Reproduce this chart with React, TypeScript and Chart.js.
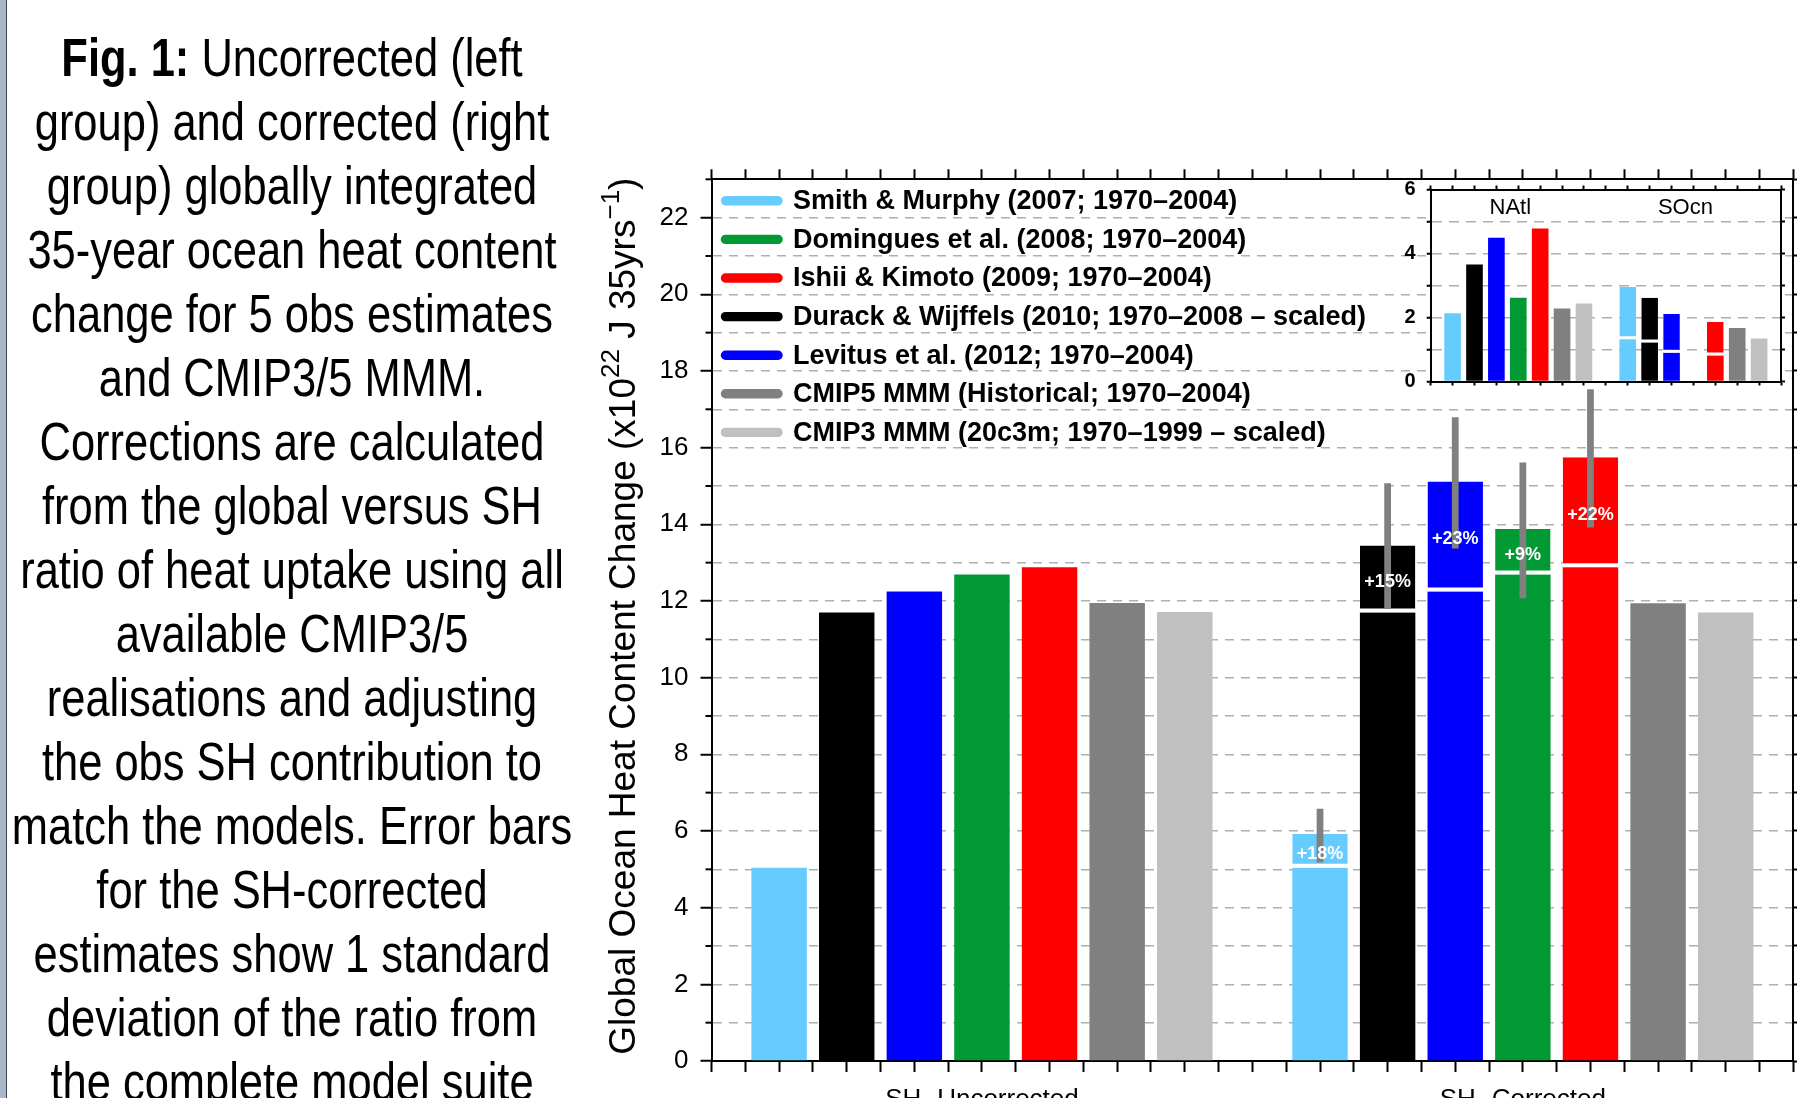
import React, { useEffect, useRef } from 'react';
import { Chart, registerables } from 'chart.js';

Chart.register(...registerables);

const FONT = '"Liberation Sans", Arial, Helvetica, sans-serif';

// ---------------- data ----------------
const groupLabels = ['SH- Uncorrected', 'SH- Corrected'];
const seriesNames = [
  'Smith & Murphy (2007; 1970–2004)',
  'Durack & Wijffels (2010; 1970–2008 – scaled)',
  'Levitus et al. (2012; 1970–2004)',
  'Domingues et al. (2008; 1970–2004)',
  'Ishii & Kimoto (2009; 1970–2004)',
  'CMIP5 MMM (Historical; 1970–2004)',
  'CMIP3 MMM (20c3m; 1970–1999 – scaled)',
];
const seriesColors = ['#66ccff', '#000000', '#0000ff', '#009933', '#ff0000', '#808080', '#c0c0c0'];
const legendOrder = [0, 3, 4, 1, 2, 5, 6];
const uncorrectedValues = [5.04, 11.7, 12.25, 12.69, 12.88, 11.95, 11.71];
const correctedValues = [5.93, 13.45, 15.12, 13.88, 15.75, 11.94, 11.7];
const correctionLabels = ['+18%', '+15%', '+23%', '+9%', '+22%', '', ''];
const errorLow = [5.18, 11.8, 13.37, 12.07, 13.92, null, null];
const errorHigh = [6.58, 15.07, 16.79, 15.61, 17.52, null, null];

const insetRegions = ['NAtl', 'SOcn'];
const natlValues = [2.13, 3.66, 4.49, 2.62, 4.78, 2.28, 2.44];
const socnValues = [1.32, 1.22, 0.9, null, 0.81, 1.67, 1.34];
const socnCorrected = [2.96, 2.62, 2.11, null, 1.86, null, null];

const captionLead = 'Fig. 1:';
const captionLines = [
  ' Uncorrected (left',
  'group) and corrected (right',
  'group) globally integrated',
  '35-year ocean heat content',
  'change for 5 obs estimates',
  'and CMIP3/5 MMM.',
  'Corrections are calculated',
  'from the global versus SH',
  'ratio of heat uptake using all',
  'available CMIP3/5',
  'realisations and adjusting',
  'the obs SH contribution to',
  'match the models. Error bars',
  'for the SH-corrected',
  'estimates show 1 standard',
  'deviation of the ratio from',
  'the complete model suite',
];

// ---------------- helpers ----------------
const nSeries = seriesNames.length;
const slotsPerGroup = nSeries + 1;
const totalSlots = groupLabels.length * slotsPerGroup;
const slot = (g: number, i: number) => g * slotsPerGroup + 1 + i;
const groupCenter = (g: number) => g * slotsPerGroup + (nSeries + 1) / 2;

const GRID = '#b0b0b0';

// ---------------- main chart config ----------------
function buildMain() {
  const baseData: any[] = [];
  const baseColors: string[] = [];
  groupLabels.forEach((_, g) => {
    seriesNames.forEach((__, i) => {
      const hasCorr = g === 1 && correctionLabels[i] !== '';
      const v = g === 0 ? uncorrectedValues[i] : hasCorr ? uncorrectedValues[i] : correctedValues[i];
      baseData.push({ x: slot(g, i), y: v });
      baseColors.push(seriesColors[i]);
    });
  });
  const corrData: any[] = [];
  const corrColors: string[] = [];
  seriesNames.forEach((_, i) => {
    if (correctionLabels[i]) {
      corrData.push({ x: slot(1, i), y: [uncorrectedValues[i], correctedValues[i]], pct: correctionLabels[i] });
      corrColors.push(seriesColors[i]);
    }
  });
  const errData: any[] = [];
  seriesNames.forEach((_, i) => {
    if (errorLow[i] != null && errorHigh[i] != null) errData.push({ x: slot(1, i), y: [errorLow[i], errorHigh[i]] });
  });

  const yTitlePlugin = {
    id: 'yTitle',
    afterDraw(chart: any) {
      const { ctx, chartArea: a } = chart;
      const fs = 37;
      const sfs = 26;
      const parts: [string, boolean][] = [
        ['Global Ocean Heat Content Change (x10', false],
        ['22', true],
        [' J 35yrs', false],
        ['\u22121', true],
        [')', false],
      ];
      ctx.save();
      let total = 0;
      const widths = parts.map(([t, sup]) => {
        ctx.font = `${sup ? sfs : fs}px ${FONT}`;
        const w = ctx.measureText(t).width;
        total += w;
        return w;
      });
      ctx.translate(a.left - 77, (a.top + a.bottom) / 2 - 4);
      ctx.rotate(-Math.PI / 2);
      ctx.fillStyle = '#000';
      ctx.textBaseline = 'alphabetic';
      ctx.textAlign = 'left';
      let x = -total / 2;
      parts.forEach(([t, sup], k) => {
        ctx.font = `${sup ? sfs : fs}px ${FONT}`;
        ctx.fillText(t, x, sup ? -fs * 0.42 : 0);
        x += widths[k];
      });
      ctx.restore();
    },
  };

  const legendPlugin = {
    id: 'insideLegend',
    afterDatasetsDraw(chart: any) {
      const { ctx, chartArea: a } = chart;
      ctx.save();
      legendOrder.forEach((si, r) => {
        const cy = a.top + 22.5 + r * 38.6;
        ctx.strokeStyle = seriesColors[si];
        ctx.lineWidth = 9.4;
        ctx.lineCap = 'round';
        ctx.beginPath();
        ctx.moveTo(a.left + 14, cy - 1);
        ctx.lineTo(a.left + 66.5, cy - 1);
        ctx.stroke();
        ctx.fillStyle = '#000';
        ctx.font = `bold 27px ${FONT}`;
        ctx.textBaseline = 'middle';
        ctx.textAlign = 'left';
        ctx.fillText(seriesNames[si], a.left + 81.5, cy);
      });
      ctx.restore();
    },
  };

  const pctPlugin = {
    id: 'pctLabels',
    afterDatasetsDraw(chart: any) {
      const { ctx } = chart;
      const ds = chart.data.datasets[1];
      const meta = chart.getDatasetMeta(1);
      ctx.save();
      ctx.fillStyle = '#ffffff';
      ctx.font = `bold 18px ${FONT}`;
      ctx.textAlign = 'center';
      ctx.textBaseline = 'middle';
      meta.data.forEach((el: any, j: number) => {
        ctx.fillText(ds.data[j].pct, el.x, (el.y + el.base) / 2 + 3);
      });
      ctx.restore();
    },
  };

  const minorTickPlugin = {
    id: 'minorTicks',
    afterDraw(chart: any) {
      const { ctx } = chart;
      const y = chart.scales.y;
      ctx.save();
      ctx.strokeStyle = '#000';
      ctx.lineWidth = 2;
      y.ticks.forEach((t: any) => {
        if (t.value % 2 === 1) {
          const py = y.getPixelForValue(t.value);
          ctx.beginPath();
          ctx.moveTo(y.right - 6, py);
          ctx.lineTo(y.right, py);
          ctx.stroke();
        }
      });
      ctx.restore();
    },
  };

  const tickFontY = { family: FONT, size: 26 };
  const barCommon = { grouped: false, categoryPercentage: 1, barPercentage: 1.64 };

  return {
    type: 'bar',
    data: {
      datasets: [
        { label: 'base', data: baseData, backgroundColor: baseColors, borderWidth: 0, order: 3, ...barCommon },
        {
          label: 'correction',
          data: corrData,
          backgroundColor: corrColors,
          borderColor: '#ffffff',
          borderWidth: { top: 0, right: 0, bottom: 4, left: 0 },
          borderSkipped: false,
          order: 2,
          ...barCommon,
        },
        { label: 'error', data: errData, backgroundColor: '#808080', borderWidth: 0, order: 1, grouped: false, categoryPercentage: 1, barPercentage: 0.2 },
      ],
    },
    options: {
      responsive: false,
      animation: false,
      events: [],
      layout: { padding: 0 },
      plugins: { legend: { display: false }, tooltip: { enabled: false }, title: { display: false } },
      scales: {
        x: {
          type: 'linear',
          position: 'bottom',
          min: 0,
          max: totalSlots,
          offset: false,
          grid: { display: true, offset: false, drawOnChartArea: false, drawTicks: true, tickLength: 11, tickWidth: 2, tickColor: '#000', tickBorderDash: [] },
          border: { display: true, color: '#000', width: 2 },
          ticks: {
            stepSize: 0.5,
            maxTicksLimit: 200,
            autoSkip: false,
            maxRotation: 0,
            minRotation: 0,
            padding: 12,
            color: '#000',
            font: { family: FONT, size: 26 },
            callback: (v: number) => {
              const g = groupLabels.findIndex((_, k) => groupCenter(k) === v);
              return g >= 0 ? groupLabels[g] : '';
            },
          },
          afterFit: (s: any) => { s.height = 59; },
        },
        x2: {
          type: 'linear',
          position: 'top',
          min: 0,
          max: totalSlots,
          offset: false,
          grid: { display: true, offset: false, drawOnChartArea: false, drawTicks: true, tickLength: 10, tickWidth: 2, tickColor: '#000', tickBorderDash: [] },
          border: { display: true, color: '#000', width: 2 },
          ticks: { display: false, stepSize: 0.5, maxTicksLimit: 200, autoSkip: false },
          afterFit: (s: any) => { s.height = 79.3; },
        },
        y: {
          type: 'linear',
          position: 'left',
          min: 0,
          max: 23,
          grid: {
            display: true,
            drawOnChartArea: true,
            drawTicks: true,
            tickLength: 11,
            tickWidth: 2,
            lineWidth: 1.5,
            color: (c: any) => (c.tick && (c.tick.value === 0 || c.tick.value === 23) ? 'rgba(0,0,0,0)' : GRID),
            tickColor: (c: any) => (c.tick && c.tick.value % 2 === 0 ? '#000' : 'rgba(0,0,0,0)'),
            tickBorderDash: [],
          },
          border: { display: true, color: '#000', width: 2, dash: [9, 7] },
          ticks: {
            stepSize: 1,
            autoSkip: false,
            padding: 12,
            color: '#000',
            font: tickFontY,
            callback: (v: number) => (v % 2 === 0 && v < 23 ? String(v) : ''),
          },
          afterFit: (s: any) => { s.width = 171.5; },
        },
        y2: {
          type: 'linear',
          position: 'right',
          min: 0,
          max: 23,
          grid: { display: true, drawOnChartArea: false, drawTicks: true, tickLength: 10, tickWidth: 2, tickColor: '#000', tickBorderDash: [] },
          border: { display: true, color: '#000', width: 2 },
          ticks: { display: false, stepSize: 1, autoSkip: false },
          afterFit: (s: any) => { s.width = 26.7; },
        },
      },
    },
    plugins: [yTitlePlugin, legendPlugin, pctPlugin, minorTickPlugin],
  };
}

// ---------------- inset chart config ----------------
function buildInset() {
  const baseData: any[] = [];
  const baseColors: string[] = [];
  seriesNames.forEach((_, i) => {
    if (natlValues[i] != null) {
      baseData.push({ x: slot(0, i), y: natlValues[i] });
      baseColors.push(seriesColors[i]);
    }
  });
  seriesNames.forEach((_, i) => {
    if (socnValues[i] != null) {
      baseData.push({ x: slot(1, i), y: socnValues[i] });
      baseColors.push(seriesColors[i]);
    }
  });
  const corrData: any[] = [];
  const corrColors: string[] = [];
  seriesNames.forEach((_, i) => {
    if (socnCorrected[i] != null && socnValues[i] != null) {
      corrData.push({ x: slot(1, i), y: [socnValues[i], socnCorrected[i]] });
      corrColors.push(seriesColors[i]);
    }
  });

  const bgPlugin = {
    id: 'areaBg',
    beforeDraw(chart: any) {
      const { ctx, chartArea: a } = chart;
      ctx.save();
      ctx.fillStyle = '#ffffff';
      ctx.fillRect(a.left, a.top, a.right - a.left, a.bottom - a.top);
      ctx.restore();
    },
  };
  const regionPlugin = {
    id: 'regionLabels',
    afterDraw(chart: any) {
      const { ctx, chartArea: a } = chart;
      const xs = chart.scales.x;
      ctx.save();
      ctx.fillStyle = '#000';
      ctx.font = `22px ${FONT}`;
      ctx.textAlign = 'center';
      ctx.textBaseline = 'alphabetic';
      insetRegions.forEach((name, g) => {
        ctx.fillText(name, xs.getPixelForValue(groupCenter(g)) - 8, a.top + 24);
      });
      ctx.restore();
    },
  };

  const barCommon = { grouped: false, categoryPercentage: 1, barPercentage: 0.76 };
  const tickGrid = { display: true, offset: false, drawOnChartArea: false, drawTicks: true, tickLength: 4, tickWidth: 2, tickColor: '#000', tickBorderDash: [] };

  return {
    type: 'bar',
    data: {
      datasets: [
        { label: 'base', data: baseData, backgroundColor: baseColors, borderWidth: 0, order: 2, ...barCommon },
        {
          label: 'correction',
          data: corrData,
          backgroundColor: corrColors,
          borderColor: '#ffffff',
          borderWidth: { top: 0, right: 0, bottom: 3, left: 0 },
          borderSkipped: false,
          order: 1,
          ...barCommon,
        },
      ],
    },
    options: {
      responsive: false,
      animation: false,
      events: [],
      layout: { padding: 0 },
      plugins: { legend: { display: false }, tooltip: { enabled: false }, title: { display: false } },
      scales: {
        x: {
          type: 'linear', position: 'bottom', min: 0, max: totalSlots, offset: false,
          grid: tickGrid,
          border: { display: true, color: '#000', width: 2 },
          ticks: { display: false, stepSize: 1, autoSkip: false },
          afterFit: (s: any) => { s.height = 28.5; },
        },
        x2: {
          type: 'linear', position: 'top', min: 0, max: totalSlots, offset: false,
          grid: tickGrid,
          border: { display: true, color: '#000', width: 2 },
          ticks: { display: false, stepSize: 1, autoSkip: false },
          afterFit: (s: any) => { s.height = 29.5; },
        },
        y: {
          type: 'linear', position: 'left', min: 0, max: 6,
          grid: {
            display: true, drawOnChartArea: true, drawTicks: true, tickLength: 4, tickWidth: 2, lineWidth: 1.5,
            color: (c: any) => (c.tick && (c.tick.value === 0 || c.tick.value === 6) ? 'rgba(0,0,0,0)' : GRID),
            tickColor: '#000', tickBorderDash: [],
          },
          border: { display: true, color: '#000', width: 2, dash: [10, 7] },
          ticks: {
            stepSize: 1, autoSkip: false, padding: 11, color: '#000',
            font: { family: FONT, size: 20, weight: 'bold' },
            callback: (v: number) => (v % 2 === 0 ? String(v) : ''),
          },
          afterFit: (s: any) => { s.width = 50.7; },
        },
        y2: {
          type: 'linear', position: 'right', min: 0, max: 6,
          grid: tickGrid,
          border: { display: true, color: '#000', width: 2 },
          ticks: { display: false, stepSize: 1, autoSkip: false },
          afterFit: (s: any) => { s.width = 19; },
        },
      },
    },
    plugins: [bgPlugin, regionPlugin],
  };
}

export default function App() {
  const mainRef = useRef<HTMLCanvasElement>(null);
  const insetRef = useRef<HTMLCanvasElement>(null);

  useEffect(() => {
    const main = new Chart(mainRef.current as HTMLCanvasElement, buildMain() as any);
    const inset = new Chart(insetRef.current as HTMLCanvasElement, buildInset() as any);
    return () => {
      main.destroy();
      inset.destroy();
    };
  }, []);

  return (
    <div style={{ position: 'fixed', left: 0, top: 0, width: 1797, height: 1098, overflow: 'hidden', background: '#ffffff' }}>
      <div style={{ position: 'absolute', left: 0, top: 0, width: 5.5, height: 1098, background: '#a8b8c8' }} />
      <div style={{ position: 'absolute', left: 5.5, top: 0, width: 1.8, height: 1098, background: '#3a444e' }} />
      <div
        style={{
          position: 'absolute',
          left: -158,
          top: 26,
          width: 900,
          fontFamily: FONT,
          fontSize: 53,
          lineHeight: '64px',
          textAlign: 'center',
          color: '#000',
          transform: 'scaleX(0.82)',
          transformOrigin: '50% 0',
        }}
      >
        {captionLines.map((line, k) => (
          <div key={k} style={{ whiteSpace: 'nowrap' }}>
            {k === 0 ? <b>{captionLead}</b> : null}
            {line}
          </div>
        ))}
      </div>
      <canvas ref={mainRef} width={1280} height={1020} style={{ position: 'absolute', left: 540, top: 100 }} />
      <canvas ref={insetRef} width={420} height={250} style={{ position: 'absolute', left: 1380, top: 160 }} />
    </div>
  );
}
